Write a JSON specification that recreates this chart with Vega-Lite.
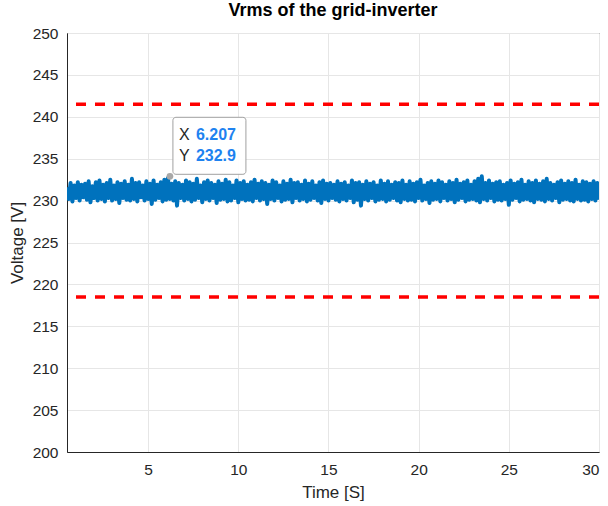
{
  "$schema": "https://vega.github.io/schema/vega-lite/v6.json",
  "autosize": {"type": "none"},
  "width": 532,
  "height": 419,
  "padding": {"left": 67, "top": 33, "right": 9, "bottom": 54},
  "background": "white",
  "config": {
    "font": "Liberation Sans",
    "view": {"stroke": "#262626", "strokeWidth": 1},
    "axis": {
      "labelFont": "Liberation Sans",
      "titleFont": "Liberation Sans",
      "labelFontSize": 15.5,
      "titleFontSize": 17,
      "titleFontWeight": "normal",
      "labelColor": "#262626",
      "titleColor": "#262626",
      "domainColor": "#262626",
      "gridColor": "#e6e6e6",
      "gridWidth": 1,
      "ticks": false
    }
  },
  "title": {
    "text": "Vrms of the grid-inverter",
    "font": "Liberation Sans",
    "fontSize": 18,
    "fontWeight": "bold",
    "color": "#000000",
    "anchor": "middle",
    "offset": 6
  },
  "datasets": {
    "signal": [
      {"t":0.5,"v":231.6},{"t":0.6,"v":230.2},{"t":0.7,"v":232.1},{"t":0.8,"v":229.9},{"t":0.9,"v":231.8},{"t":1.0,"v":230.3},{"t":1.1,"v":232.2},{"t":1.2,"v":230.0},{"t":1.3,"v":231.9},{"t":1.4,"v":230.4},
      {"t":1.5,"v":232.0},{"t":1.6,"v":230.1},{"t":1.7,"v":232.3},{"t":1.8,"v":229.8},{"t":1.9,"v":231.7},{"t":2.0,"v":230.3},{"t":2.1,"v":232.2},{"t":2.2,"v":230.0},{"t":2.3,"v":232.4},{"t":2.4,"v":230.2},
      {"t":2.5,"v":231.9},{"t":2.6,"v":229.9},{"t":2.7,"v":232.1},{"t":2.8,"v":230.3},{"t":2.9,"v":232.5},{"t":3.0,"v":230.0},{"t":3.1,"v":231.8},{"t":3.2,"v":230.2},{"t":3.3,"v":232.2},{"t":3.4,"v":229.7},
      {"t":3.5,"v":232.0},{"t":3.6,"v":230.3},{"t":3.7,"v":232.3},{"t":3.8,"v":230.1},{"t":3.9,"v":231.9},{"t":4.0,"v":230.0},{"t":4.1,"v":232.6},{"t":4.2,"v":230.2},{"t":4.3,"v":232.1},{"t":4.4,"v":229.9},
      {"t":4.5,"v":232.2},{"t":4.6,"v":230.4},{"t":4.7,"v":231.8},{"t":4.8,"v":230.0},{"t":4.9,"v":232.3},{"t":5.0,"v":230.2},{"t":5.1,"v":232.0},{"t":5.2,"v":229.6},{"t":5.3,"v":232.4},{"t":5.4,"v":230.1},
      {"t":5.5,"v":231.9},{"t":5.6,"v":230.3},{"t":5.7,"v":232.2},{"t":5.8,"v":229.9},{"t":5.9,"v":232.5},{"t":6.0,"v":230.1},{"t":6.1,"v":232.7},{"t":6.2,"v":230.2},{"t":6.3,"v":232.0},{"t":6.4,"v":230.0},
      {"t":6.5,"v":232.3},{"t":6.6,"v":229.4},{"t":6.7,"v":232.1},{"t":6.8,"v":230.3},{"t":6.9,"v":231.9},{"t":7.0,"v":230.0},{"t":7.1,"v":232.4},{"t":7.2,"v":230.2},{"t":7.3,"v":232.2},{"t":7.4,"v":229.9},
      {"t":7.5,"v":232.0},{"t":7.6,"v":230.1},{"t":7.7,"v":232.6},{"t":7.8,"v":230.3},{"t":7.9,"v":231.8},{"t":8.0,"v":229.8},{"t":8.1,"v":232.2},{"t":8.2,"v":230.2},{"t":8.3,"v":232.4},{"t":8.4,"v":230.0},
      {"t":8.5,"v":232.1},{"t":8.6,"v":230.3},{"t":8.7,"v":231.9},{"t":8.8,"v":229.7},{"t":8.9,"v":232.3},{"t":9.0,"v":230.1},{"t":9.1,"v":232.0},{"t":9.2,"v":230.2},{"t":9.3,"v":232.5},{"t":9.4,"v":229.9},
      {"t":9.5,"v":232.2},{"t":9.6,"v":230.0},{"t":9.7,"v":231.8},{"t":9.8,"v":230.3},{"t":9.9,"v":232.4},{"t":10.0,"v":229.8},{"t":10.1,"v":232.1},{"t":10.2,"v":230.2},{"t":10.3,"v":232.3},{"t":10.4,"v":230.0},
      {"t":10.5,"v":231.9},{"t":10.6,"v":230.1},{"t":10.7,"v":232.2},{"t":10.8,"v":229.9},{"t":10.9,"v":232.5},{"t":11.0,"v":230.3},{"t":11.1,"v":232.0},{"t":11.2,"v":230.0},{"t":11.3,"v":232.3},{"t":11.4,"v":230.2},
      {"t":11.5,"v":232.1},{"t":11.6,"v":229.6},{"t":11.7,"v":231.9},{"t":11.8,"v":230.2},{"t":11.9,"v":232.4},{"t":12.0,"v":230.0},{"t":12.1,"v":232.2},{"t":12.2,"v":230.3},{"t":12.3,"v":231.8},{"t":12.4,"v":229.9},
      {"t":12.5,"v":232.3},{"t":12.6,"v":230.1},{"t":12.7,"v":232.0},{"t":12.8,"v":230.2},{"t":12.9,"v":232.5},{"t":13.0,"v":229.8},{"t":13.1,"v":232.1},{"t":13.2,"v":230.3},{"t":13.3,"v":232.2},{"t":13.4,"v":230.0},
      {"t":13.5,"v":231.9},{"t":13.6,"v":230.2},{"t":13.7,"v":232.4},{"t":13.8,"v":229.9},{"t":13.9,"v":232.0},{"t":14.0,"v":230.1},{"t":14.1,"v":232.3},{"t":14.2,"v":230.3},{"t":14.3,"v":231.8},{"t":14.4,"v":230.0},
      {"t":14.5,"v":232.2},{"t":14.6,"v":229.7},{"t":14.7,"v":232.4},{"t":14.8,"v":230.2},{"t":14.9,"v":232.0},{"t":15.0,"v":230.0},{"t":15.1,"v":232.1},{"t":15.2,"v":230.3},{"t":15.3,"v":231.9},{"t":15.4,"v":230.1},
      {"t":15.5,"v":232.3},{"t":15.6,"v":229.9},{"t":15.7,"v":232.0},{"t":15.8,"v":230.2},{"t":15.9,"v":232.2},{"t":16.0,"v":230.0},{"t":16.1,"v":231.8},{"t":16.2,"v":230.3},{"t":16.3,"v":232.4},{"t":16.4,"v":229.8},
      {"t":16.5,"v":232.1},{"t":16.6,"v":230.1},{"t":16.7,"v":232.2},{"t":16.8,"v":229.4},{"t":16.9,"v":231.9},{"t":17.0,"v":230.2},{"t":17.1,"v":232.3},{"t":17.2,"v":230.0},{"t":17.3,"v":232.0},{"t":17.4,"v":230.3},
      {"t":17.5,"v":232.2},{"t":17.6,"v":229.9},{"t":17.7,"v":231.8},{"t":17.8,"v":230.1},{"t":17.9,"v":232.4},{"t":18.0,"v":230.2},{"t":18.1,"v":232.0},{"t":18.2,"v":229.9},{"t":18.3,"v":232.3},{"t":18.4,"v":230.1},
      {"t":18.5,"v":231.9},{"t":18.6,"v":230.3},{"t":18.7,"v":232.2},{"t":18.8,"v":230.0},{"t":18.9,"v":232.1},{"t":19.0,"v":229.8},{"t":19.1,"v":232.4},{"t":19.2,"v":230.2},{"t":19.3,"v":231.9},{"t":19.4,"v":230.0},
      {"t":19.5,"v":232.3},{"t":19.6,"v":230.1},{"t":19.7,"v":232.0},{"t":19.8,"v":229.9},{"t":19.9,"v":232.2},{"t":20.0,"v":230.3},{"t":20.1,"v":232.5},{"t":20.2,"v":230.0},{"t":20.3,"v":231.8},{"t":20.4,"v":230.2},
      {"t":20.5,"v":232.1},{"t":20.6,"v":229.7},{"t":20.7,"v":232.3},{"t":20.8,"v":230.1},{"t":20.9,"v":232.0},{"t":21.0,"v":230.2},{"t":21.1,"v":232.4},{"t":21.2,"v":229.9},{"t":21.3,"v":232.2},{"t":21.4,"v":230.3},
      {"t":21.5,"v":231.9},{"t":21.6,"v":230.0},{"t":21.7,"v":232.3},{"t":21.8,"v":230.2},{"t":21.9,"v":232.1},{"t":22.0,"v":229.8},{"t":22.1,"v":232.5},{"t":22.2,"v":230.1},{"t":22.3,"v":232.0},{"t":22.4,"v":230.3},
      {"t":22.5,"v":232.2},{"t":22.6,"v":229.9},{"t":22.7,"v":232.4},{"t":22.8,"v":230.1},{"t":22.9,"v":231.9},{"t":23.0,"v":230.2},{"t":23.1,"v":232.3},{"t":23.2,"v":230.0},{"t":23.3,"v":232.6},{"t":23.4,"v":229.8},
      {"t":23.5,"v":232.9},{"t":23.6,"v":230.2},{"t":23.7,"v":232.1},{"t":23.8,"v":230.0},{"t":23.9,"v":232.4},{"t":24.0,"v":230.3},{"t":24.1,"v":232.0},{"t":24.2,"v":229.9},{"t":24.3,"v":232.2},{"t":24.4,"v":230.1},
      {"t":24.5,"v":232.3},{"t":24.6,"v":230.0},{"t":24.7,"v":231.9},{"t":24.8,"v":230.2},{"t":24.9,"v":232.1},{"t":25.0,"v":229.5},{"t":25.1,"v":232.4},{"t":25.2,"v":230.1},{"t":25.3,"v":232.0},{"t":25.4,"v":230.3},
      {"t":25.5,"v":232.2},{"t":25.6,"v":229.9},{"t":25.7,"v":232.5},{"t":25.8,"v":230.1},{"t":25.9,"v":231.9},{"t":26.0,"v":230.2},{"t":26.1,"v":232.3},{"t":26.2,"v":230.0},{"t":26.3,"v":232.1},{"t":26.4,"v":229.8},
      {"t":26.5,"v":232.4},{"t":26.6,"v":230.2},{"t":26.7,"v":232.0},{"t":26.8,"v":230.1},{"t":26.9,"v":232.3},{"t":27.0,"v":229.9},{"t":27.1,"v":232.6},{"t":27.2,"v":230.2},{"t":27.3,"v":232.1},{"t":27.4,"v":230.0},
      {"t":27.5,"v":231.9},{"t":27.6,"v":230.3},{"t":27.7,"v":232.2},{"t":27.8,"v":229.8},{"t":27.9,"v":232.4},{"t":28.0,"v":230.1},{"t":28.1,"v":232.0},{"t":28.2,"v":230.2},{"t":28.3,"v":232.3},{"t":28.4,"v":230.0},
      {"t":28.5,"v":232.1},{"t":28.6,"v":229.9},{"t":28.7,"v":232.5},{"t":28.8,"v":230.2},{"t":28.9,"v":231.9},{"t":29.0,"v":230.0},{"t":29.1,"v":232.3},{"t":29.2,"v":230.1},{"t":29.3,"v":232.2},{"t":29.4,"v":229.9},
      {"t":29.5,"v":232.0},{"t":29.6,"v":230.2},{"t":29.7,"v":232.3},{"t":29.8,"v":230.0},{"t":29.9,"v":232.1},{"t":30.0,"v":230.1}
    ],
    "limits": [{"v": 241.5}, {"v": 218.5}],
    "tip": [{"t": 6.207, "v": 232.9, "xs": "6.207", "ys": "232.9"}]
  },
  "layer": [
    {
      "data": {"name": "signal"},
      "mark": {"type": "line", "color": "#0072BD", "strokeWidth": 4, "clip": true, "strokeJoin": "round"},
      "encoding": {
        "x": {
          "field": "t", "type": "quantitative",
          "scale": {"domain": [0.5, 30], "nice": false, "zero": false},
          "axis": {"values": [5, 10, 15, 20, 25, 30], "title": "Time [S]", "labelPadding": 10, "titlePadding": 7, "grid": true}
        },
        "y": {
          "field": "v", "type": "quantitative",
          "scale": {"domain": [200, 250], "nice": false, "zero": false},
          "axis": {"values": [200, 205, 210, 215, 220, 225, 230, 235, 240, 245, 250], "title": "Voltage [V]", "labelPadding": 9, "titlePadding": 6, "grid": true}
        }
      }
    },
    {
      "data": {"name": "limits"},
      "mark": {"type": "rule", "color": "#FF0000", "strokeWidth": 3.5, "strokeDash": [10, 9]},
      "encoding": {"y": {"field": "v", "type": "quantitative"}}
    },
    {
      "data": {"name": "tip"},
      "mark": {"type": "rect", "fill": "white", "fillOpacity": 0.95, "stroke": "#a0a0a0", "strokeWidth": 1, "cornerRadius": 3, "xOffset": 3, "x2Offset": 76, "yOffset": -59, "y2Offset": -2},
      "encoding": {
        "x": {"field": "t", "type": "quantitative"},
        "x2": {"field": "t"},
        "y": {"field": "v", "type": "quantitative"},
        "y2": {"field": "v"}
      }
    },
    {
      "data": {"name": "tip"},
      "mark": {"type": "point", "filled": true, "color": "#a8a8a8", "size": 45, "opacity": 1},
      "encoding": {
        "x": {"field": "t", "type": "quantitative"},
        "y": {"field": "v", "type": "quantitative"}
      }
    },
    {
      "data": {"name": "tip"},
      "mark": {"type": "text", "text": "X", "font": "Liberation Sans", "fontSize": 16, "color": "#262626", "align": "left", "baseline": "middle", "dx": 9, "dy": -41},
      "encoding": {
        "x": {"field": "t", "type": "quantitative"},
        "y": {"field": "v", "type": "quantitative"}
      }
    },
    {
      "data": {"name": "tip"},
      "mark": {"type": "text", "text": "Y", "font": "Liberation Sans", "fontSize": 16, "color": "#262626", "align": "left", "baseline": "middle", "dx": 9, "dy": -20},
      "encoding": {
        "x": {"field": "t", "type": "quantitative"},
        "y": {"field": "v", "type": "quantitative"}
      }
    },
    {
      "data": {"name": "tip"},
      "mark": {"type": "text", "font": "Liberation Sans", "fontSize": 16, "fontWeight": "bold", "color": "#1E82F0", "align": "left", "baseline": "middle", "dx": 26, "dy": -41},
      "encoding": {
        "x": {"field": "t", "type": "quantitative"},
        "y": {"field": "v", "type": "quantitative"},
        "text": {"field": "xs", "type": "nominal"}
      }
    },
    {
      "data": {"name": "tip"},
      "mark": {"type": "text", "font": "Liberation Sans", "fontSize": 16, "fontWeight": "bold", "color": "#1E82F0", "align": "left", "baseline": "middle", "dx": 26, "dy": -20},
      "encoding": {
        "x": {"field": "t", "type": "quantitative"},
        "y": {"field": "v", "type": "quantitative"},
        "text": {"field": "ys", "type": "nominal"}
      }
    }
  ]
}
